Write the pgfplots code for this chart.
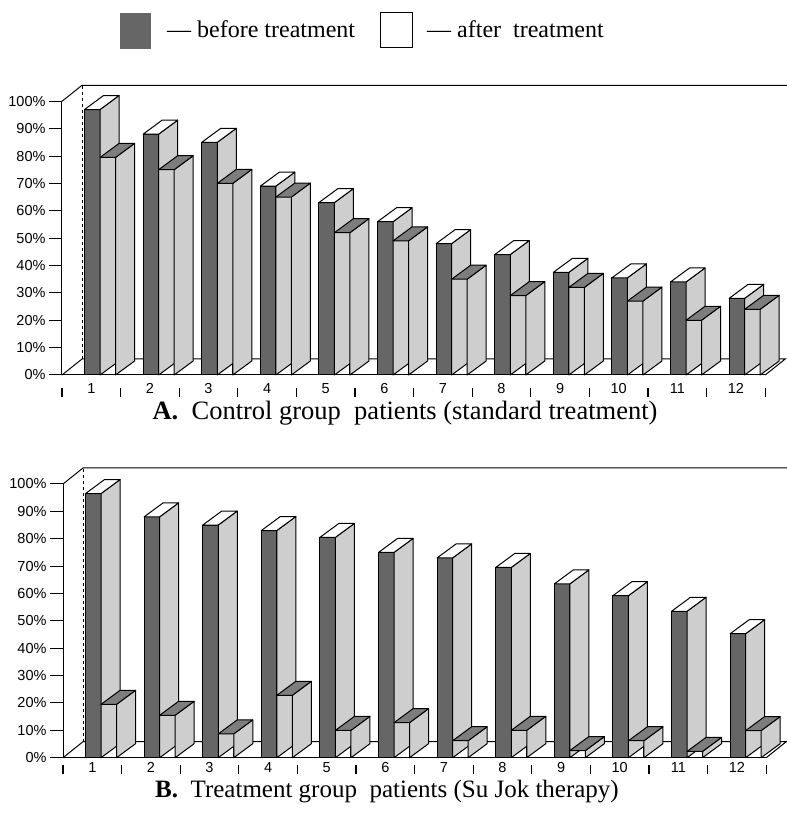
\documentclass[border=0pt]{standalone}
\usepackage{fontspec}
\setmainfont{Liberation Serif}
\newfontfamily\ticksf{Liberation Sans}
\usepackage{pgfplots}
\pgfplotsset{compat=1.18}
\usepackage{pgfplotstable}

\definecolor{bardark}{RGB}{102,102,102}
\definecolor{sidegray}{RGB}{206,206,206}
\definecolor{topgray}{RGB}{125,125,125}

% Control group (standard treatment), % of patients
\pgfplotstableread{
cat before after
1  97   79.5
2  88   75
3  85   70
4  69   65
5  63   52
6  56   49
7  48   35
8  44   29
9  37.5 32
10 35.5 27
11 34   20
12 28   24
}\controldata

% Treatment group (Su Jok therapy), % of patients
\pgfplotstableread{
cat before after
1  96.5 19.5
2  88   15.5
3  85   8.7
4  83   22.8
5  80.5 10
6  75   12.8
7  73   6.2
8  69.5 10
9  63.5 2.6
10 59.2 6.2
11 53.5 2.3
12 45.3 9.9
}\treatdata

% side and top faces of a bar, drawn at the data point (top front of the bar)
\newcommand\drawsidetop[2]{% #1 centre shift (pt), #2 top colour
  \pgfmathsetmacro\Hn{-\barval*2.737}%
  \pgfmathsetmacro\xl{#1-7.75}%
  \pgfmathsetmacro\xr{#1+7.75}%
  \pgfmathsetmacro\xlb{\xl+19}%
  \pgfmathsetmacro\xrb{\xr+19}%
  \pgfmathsetmacro\Hb{\Hn+14}%
  \pgfsetlinewidth{1pt}\pgfsetstrokecolor{black}\pgfsetroundjoin
  \pgfsetfillcolor{sidegray}%
  \pgfpathmoveto{\pgfpoint{\xr pt}{0pt}}%
  \pgfpathlineto{\pgfpoint{\xrb pt}{14pt}}%
  \pgfpathlineto{\pgfpoint{\xrb pt}{\Hb pt}}%
  \pgfpathlineto{\pgfpoint{\xr pt}{\Hn pt}}%
  \pgfpathclose\pgfusepath{fill,stroke}%
  \pgfsetfillcolor{#2}%
  \pgfpathmoveto{\pgfpoint{\xl pt}{0pt}}%
  \pgfpathlineto{\pgfpoint{\xlb pt}{14pt}}%
  \pgfpathlineto{\pgfpoint{\xrb pt}{14pt}}%
  \pgfpathlineto{\pgfpoint{\xr pt}{0pt}}%
  \pgfpathclose\pgfusepath{fill,stroke}%
}
\pgfdeclareplotmark{darkside}{\drawsidetop{1}{white}}
\pgfdeclareplotmark{whiteside}{\drawsidetop{16.5}{topgray}}

\newcommand\sepm{\rule{1.3pt}{9pt}}

\pgfplotsset{
  bars3d/.style={
    x=58.6pt, y=2.737pt,
    xmin=0.5, xmax=12.5, ymin=0, ymax=100,
    clip=false,
    axis x line*=bottom, axis y line*=left,
    axis line style={line width=1pt, -},
    /pgf/number format/assume math mode=true,
    ticklabel style={font=\ticksf\fontsize{14.5}{14.5}\selectfont},
    ytick={0,10,...,100},
    yticklabel={\pgfmathprintnumber{\tick}\%},
    tick align=outside,
    y tick style={line width=1pt, black},
    major tick length=13pt,
    xtick={1,...,12},
    x tick style={draw=none},
    x tick label style={yshift=#1, text height=10pt, text depth=0pt, inner ysep=0pt},
    extra x ticks={0.5,1.5,...,12.5},
    extra x tick labels={\sepm,\sepm,\sepm,\sepm,\sepm,\sepm,\sepm,\sepm,\sepm,\sepm,\sepm,\sepm,\sepm},
    extra x tick style={x tick style={draw=none}, tick label style={yshift=#1-9pt, text height=9pt, text depth=0pt, inner ysep=0pt}},
  },
  frontdark/.style={ybar, bar width=15.5pt, bar shift=1pt, fill=bardark, draw=black, line width=1pt},
  frontwhite/.style={ybar, bar width=15.5pt, bar shift=16.5pt, fill=white, draw=black, line width=1pt},
  sidedark/.style={only marks, mark=darkside, visualization depends on={rawy \as \barval}},
  sidewhite/.style={only marks, mark=whiteside, visualization depends on={rawy \as \barval}},
}

\newcommand\wallfloor{%
  \draw[line width=1pt] (axis cs:0.5,100) -- ++(20pt,16pt) -- ([xshift=80pt,yshift=16pt]axis cs:12.5,100);
  \draw[line width=0.8pt, dashed] ([xshift=20pt,yshift=16pt]axis cs:0.5,0) -- ([xshift=20pt,yshift=16pt]axis cs:0.5,100);
  \draw[line width=1pt] (axis cs:0.5,0) -- ++(20pt,16pt) -- ([xshift=20pt,yshift=16pt]axis cs:12.5,0) -- (axis cs:12.5,0);
}

\begin{document}
\begin{tikzpicture}
\clip (0,0) rectangle (787pt,820pt);
\path[use as bounding box] (0,0) rectangle (787pt,820pt);

% legend
\fill[bardark] (120pt,771pt) rectangle (151pt,807pt);
\draw[line width=1pt, fill=white] (380pt,772pt) rectangle (412pt,807pt);
\node[anchor=base west, inner sep=0pt, font=\fontsize{24}{28}\selectfont] at (167pt,782pt) {— before treatment};
\node[anchor=base west, inner sep=0pt, font=\fontsize{24}{28}\selectfont] at (427pt,782pt) {— after\ \ treatment};

% A. control group
\begin{axis}[bars3d=5pt, at={(62pt,445pt)}, anchor=south west]
\wallfloor
\addplot[frontdark] table[x=cat, y=before] {\controldata};
\addplot[sidedark] table[x=cat, y=before] {\controldata};
\addplot[frontwhite] table[x=cat, y=after] {\controldata};
\addplot[sidewhite] table[x=cat, y=after] {\controldata};
\end{axis}
\node[anchor=base, inner sep=0pt, font=\fontsize{26.5}{30}\selectfont] at (405pt,400pt) {\textbf{A.}\ \ Control group\ \ patients (standard treatment)};

% B. treatment group
\begin{axis}[bars3d=8pt, at={(63pt,62.3pt)}, anchor=south west]
\wallfloor
\addplot[frontdark] table[x=cat, y=before] {\treatdata};
\addplot[sidedark] table[x=cat, y=before] {\treatdata};
\addplot[frontwhite] table[x=cat, y=after] {\treatdata};
\addplot[sidewhite] table[x=cat, y=after] {\treatdata};
\end{axis}
\node[anchor=base, inner sep=0pt, font=\fontsize{25}{29}\selectfont] at (387pt,22pt) {\textbf{B.}\ \ Treatment group\ \ patients (Su Jok therapy)};
\end{tikzpicture}
\end{document}
